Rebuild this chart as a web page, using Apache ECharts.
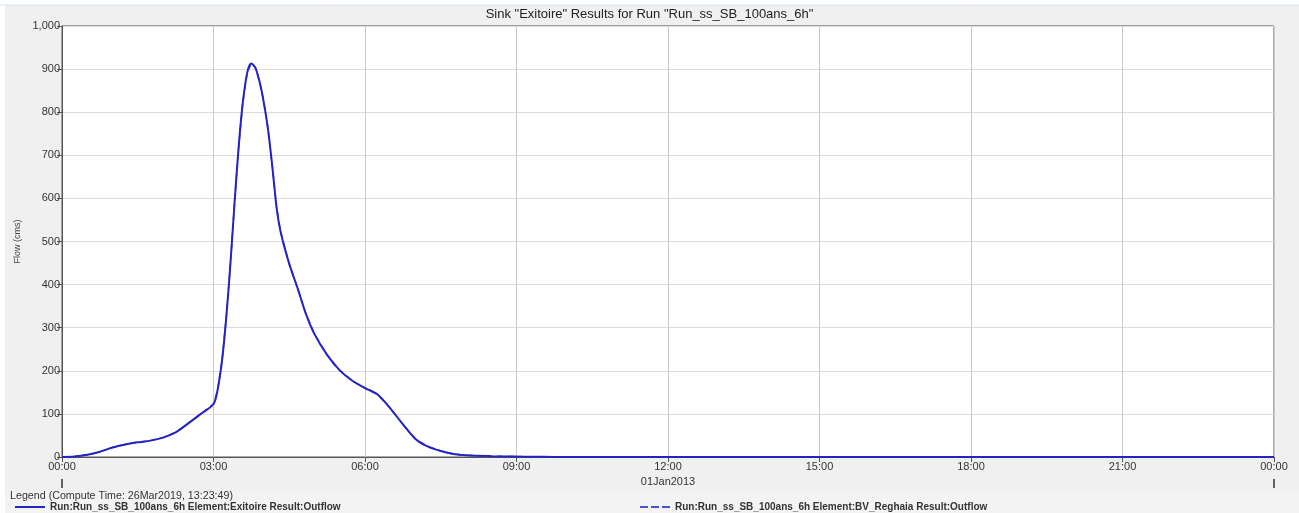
<!DOCTYPE html>
<html>
<head>
<meta charset="utf-8">
<script src="https://cdn.jsdelivr.net/npm/echarts@6/dist/echarts.min.js"></script>
<style>
html,body{margin:0;padding:0;background:#fff;}
#chart{width:1299px;height:513px;}
</style>
</head>
<body>
<div id="chart"></div>
<script>
// ---- data (hours since 00:00 01Jan2013, flow in cms) ----
var hours = [0, 0.25, 0.5, 0.75, 1.0, 1.25, 1.5, 1.75, 2.0, 2.25, 2.5, 2.75, 3.0, 3.08, 3.17, 3.25, 3.33, 3.42, 3.5, 3.58, 3.67, 3.75, 3.83, 3.92, 4.0, 4.08, 4.17, 4.25, 4.33, 4.5, 4.67, 4.83, 5.0, 5.25, 5.5, 5.75, 6.0, 6.25, 6.5, 6.75, 7.0, 7.25, 7.5, 7.75, 8.0, 8.5, 9.0, 9.5, 10, 12, 18, 24];
var exitoireFlow = [0, 1, 5, 12, 22, 29, 34, 38, 45, 57, 78, 100, 123, 155, 225, 320, 440, 595, 722, 822, 893, 913, 903, 867, 820, 760, 668, 578, 522, 448, 390, 332, 285, 237, 201, 177, 160, 145, 113, 76, 42, 24, 14, 7, 4, 2, 1, 0.5, 0, 0, 0, 0];
var reghaiaFlow = exitoireFlow.slice();
var xTickLabels = ['00:00', '03:00', '06:00', '09:00', '12:00', '15:00', '18:00', '21:00', '00:00'];
var seriesNames = ['Run:Run_ss_SB_100ans_6h Element:Exitoire Result:Outflow', 'Run:Run_ss_SB_100ans_6h Element:BV_Reghaia Result:Outflow'];
var titleText = 'Sink "Exitoire" Results for Run "Run_ss_SB_100ans_6h"';
var legendTitle = 'Legend (Compute Time: 26Mar2019, 13:23:49)';
var dateLabel = '01Jan2013';

function pairs(xs, ys) { return xs.map(function (x, i) { return [x, ys[i]]; }); }

var font = 'Liberation Sans, Arial, sans-serif';
var legendText = {fontSize: 10, fontWeight: 'bold', color: '#333', fontFamily: font};
var chart = echarts.init(document.getElementById('chart'), null, {renderer: 'canvas'});
chart.setOption({
  backgroundColor: '#ffffff',
  animation: false,
  textStyle: {fontFamily: font},
  graphic: [
    {type: 'rect', z: -10, shape: {x: 5, y: 5, width: 1294, height: 508}, style: {fill: '#f0f0f0'}},
    {type: 'rect', z: -9, shape: {x: 5, y: 492, width: 1294, height: 21}, style: {fill: '#f3f3f3'}},
    {type: 'line', z: -8, shape: {x1: 0, y1: 5, x2: 1299, y2: 5}, style: {stroke: '#d6e2ef', lineWidth: 1}},
    {type: 'text', left: 10, top: 491, style: {text: legendTitle, fill: '#333', font: '10.7px ' + font}}
  ],
  title: {
    text: titleText, left: 'center', top: 3,
    textStyle: {fontSize: 13, fontWeight: 'normal', color: '#222', fontFamily: font}
  },
  legend: [
    {data: [seriesNames[0]], left: 15, top: 500, padding: [2, 0, 1, 0], itemWidth: 30, itemHeight: 2, itemGap: 6,
      icon: 'rect', textStyle: legendText},
    {data: [seriesNames[1]], left: 640, top: 500, padding: [2, 0, 1, 0], itemWidth: 30, itemHeight: 2, itemGap: 6,
      icon: 'path://M0,0h8v2h-8z M11,0h8v2h-8z M22,0h8v2h-8z', textStyle: legendText}
  ],
  grid: {left: 62, right: 25, top: 26, bottom: 56, show: true, backgroundColor: '#ffffff', borderColor: '#555', borderWidth: 1},
  xAxis: [
    {
      type: 'value', min: 0, max: 24, interval: 3,
      axisLine: {show: true, lineStyle: {color: '#555'}},
      axisTick: {show: true, length: 5, lineStyle: {color: '#555'}},
      axisLabel: {color: '#333', fontSize: 11, margin: 4, fontFamily: font,
        formatter: function (v) { return xTickLabels[Math.round(v / 3)]; }},
      splitLine: {show: true, lineStyle: {color: '#c8c8c8'}},
      name: dateLabel, nameLocation: 'middle', nameGap: 18,
      nameTextStyle: {color: '#333', fontSize: 11, fontFamily: font}
    },
    {
      type: 'value', min: 0, max: 24, interval: 24, position: 'bottom', offset: 22,
      axisLine: {show: false},
      axisTick: {show: true, length: 9, inside: false, lineStyle: {color: '#333', width: 1.5}},
      axisLabel: {show: false},
      splitLine: {show: false}
    }
  ],
  yAxis: {
    type: 'value', min: 0, max: 1000, interval: 100,
    name: 'Flow (cms)', nameLocation: 'middle', nameGap: 36, nameRotate: 90,
    nameTextStyle: {color: '#444', fontSize: 9, fontFamily: font},
    axisLine: {show: true, lineStyle: {color: '#555'}},
    axisTick: {show: true, length: 5, lineStyle: {color: '#555'}},
    axisLabel: {color: '#333', fontSize: 11, margin: 2, fontFamily: font,
      formatter: function (v) { return v.toLocaleString('en-US'); }},
    splitLine: {show: true, lineStyle: {color: '#dcdcdc'}}
  },
  series: [
    {name: seriesNames[1], type: 'line', data: pairs(hours, reghaiaFlow), showSymbol: false, symbol: 'none',
      lineStyle: {color: '#5050cc', width: 1.5, type: [6, 4]}, itemStyle: {color: '#5050cc'}, z: 2},
    {name: seriesNames[0], type: 'line', data: pairs(hours, exitoireFlow), showSymbol: false, symbol: 'none', smooth: 0.3,
      lineStyle: {color: '#2424c4', width: 2}, itemStyle: {color: '#2424c4'}, z: 3}
  ]
});
</script>
</body>
</html>
